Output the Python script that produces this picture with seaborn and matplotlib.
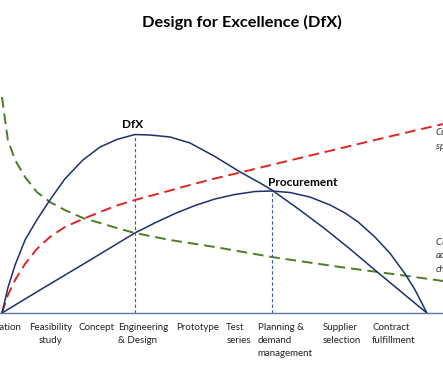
import numpy as np
import pandas as pd
import seaborn as sns
import matplotlib.pyplot as plt

# Curve readings: x in stage units along the timeline, y on a 0-100ish scale
dfx_x = [0, 0.13, 0.29, 0.51, 0.77, 1.06, 1.39, 1.79, 2.17, 2.54, 2.94, 3.27,
         3.72, 4.16, 4.71, 5.27, 5.71, 5.97, 6.59, 7.15, 7.70, 8.25, 8.81, 9.40]
dfx_y = [0, 12.5, 24, 36.5, 46.5, 56.5, 67, 76.5, 83, 86.75, 89.25, 89,
         88, 85, 78.25, 70.5, 65, 61.5, 51.5, 42, 32, 21.5, 11, 0]

proc_x = [0, 0.84, 1.73, 2.50, 2.94, 3.38, 3.83, 4.27, 4.71, 5.15, 5.60, 5.97,
          6.37, 6.81, 7.26, 7.59, 7.88, 8.25, 8.58, 8.92, 9.14, 9.40]
proc_y = [0, 11.5, 23.5, 34, 40, 45, 49.75, 53.75, 57, 59.25, 60.75, 61,
          60.25, 58, 54, 50, 45.5, 38, 30, 19.5, 11.5, 0]

spend_x = [0, 0.13, 0.29, 0.51, 0.77, 1.06, 1.39, 1.79, 2.17, 2.54, 2.94, 3.27,
           3.72, 4.16, 4.71, 5.27, 6.59, 7.70, 8.81, 9.76]
spend_y = [0, 9, 16.5, 24.5, 32, 38, 43, 47, 50.5, 53.75, 56.5, 58.5,
           61.25, 64, 67.25, 70.25, 77.5, 83.5, 89.5, 94.5]

change_x = [0, 0.13, 0.29, 0.51, 0.77, 1.06, 1.39, 1.79, 2.17, 2.54, 2.94, 3.72,
            4.71, 5.97, 7.48, 8.81, 9.76]
change_y = [108, 86.5, 76.5, 68, 60.5, 55.5, 51.5, 47.5, 45, 42.5, 40, 36.5,
            33, 28, 23, 19, 16]

stages = ["Initiation", "Feasibility\nstudy", "Concept", "Engineering\n& Design",
          "Prototype", "Test\nseries", "Planning &\ndemand\nmanagement",
          "Supplier\nselection", "Contract\nfulfillment"]
stage_x = [-0.41, 0.60, 1.70, 2.57, 3.85, 4.96, 5.66, 7.10, 8.19]
stage_align = ["left", "center", "left", "left", "left", "left", "left", "left", "left"]

sns.set_theme(style="white")
plt.rcParams["font.family"] = ["Lato", "DejaVu Sans"]

fig = plt.figure(figsize=(4.43, 3.70), dpi=100)
ax = fig.add_axes([0, 57 / 370, 1, 313 / 370])

navy = "#1f2f6e"
sns.lineplot(x=spend_x, y=spend_y, color="#e02424", lw=1.4, ax=ax)
ax.lines[-1].set_dashes((5.5, 3))
sns.lineplot(x=change_x, y=change_y, color="#4f7a28", lw=1.4, ax=ax)
ax.lines[-1].set_dashes((5.5, 3))
sns.lineplot(x=dfx_x, y=dfx_y, color=navy, lw=1.1, ax=ax)
sns.lineplot(x=proc_x, y=proc_y, color=navy, lw=1.1, ax=ax)

# dashed drop lines at the two peaks
i = int(np.argmax(dfx_y))
j = int(np.argmax(proc_y))
ax.vlines([dfx_x[i], proc_x[j]], 0, [dfx_y[i], proc_y[j]], color="#3a5cb0",
          lw=0.8, linestyles=(0, (3, 2)))

ax.text(dfx_x[i] - 0.05, dfx_y[i] + 2, "DfX", ha="center", va="bottom",
        fontsize=8.5, fontweight="bold", color="black")
ax.text(proc_x[j] - 0.08, proc_y[j] + 1.5, "Procurement", ha="left", va="bottom",
        fontsize=8.6, fontweight="bold", color="black")

# side notes, running off the right edge as in the source picture
ax.text(9.60, 86.75, "Cumulative\nspend", ha="left", va="center", fontsize=7,
        style="italic", color="#333333", linespacing=1.6)
ax.text(9.60, 28.5, "Cost of\nadapting\nchanges", ha="left", va="center", fontsize=7,
        style="italic", color="#333333", linespacing=1.6)

for s, sx, al in zip(stages, stage_x, stage_align):
    ax.text(sx, -4.8, s, ha="left", va="top", multialignment=al, fontsize=7,
            color="#222222", linespacing=1.6, clip_on=False)

fig.text(0.546, 0.94, "Design for Excellence (DfX)", ha="center", va="center",
         fontsize=11.8, fontweight="bold", color="black")

ax.set_xlim(-0.044, 9.757)
ax.set_ylim(0, 156.5)
ax.set_xticks([])
ax.set_yticks([])
for side in ["left", "right", "top"]:
    ax.spines[side].set_visible(False)
ax.spines["bottom"].set_color("#5a78aa")
ax.spines["bottom"].set_linewidth(1.0)

fig.savefig("out.png", dpi=100)
